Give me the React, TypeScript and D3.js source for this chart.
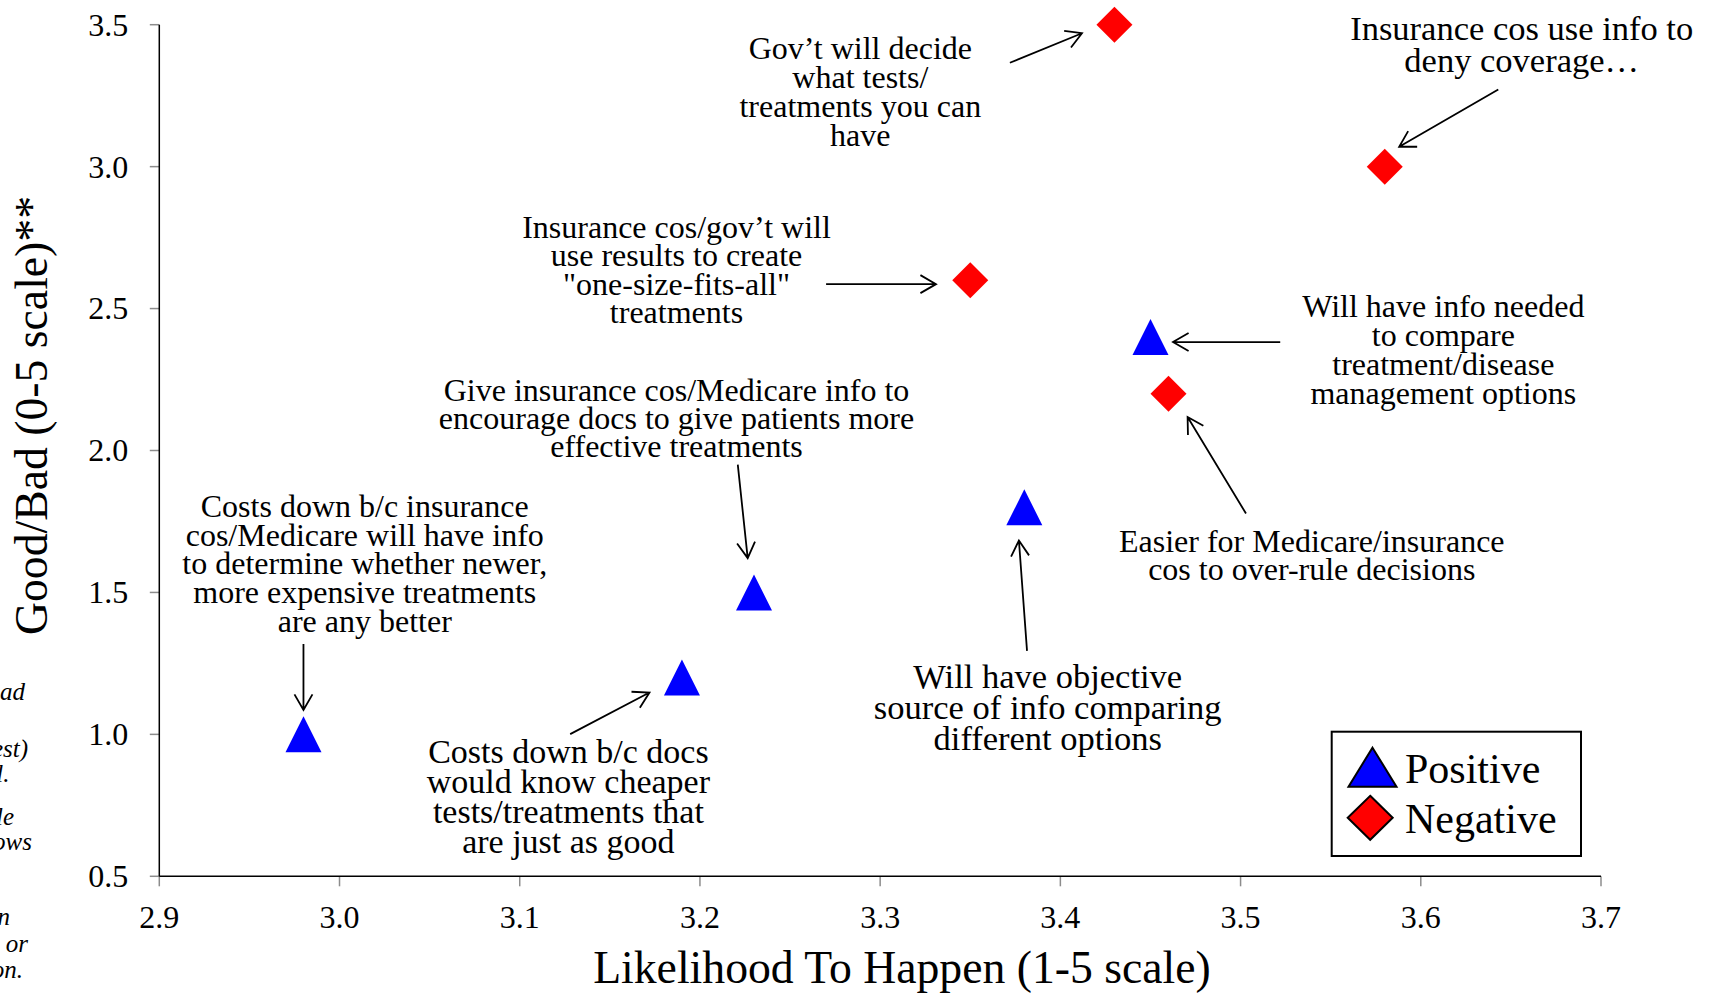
import React from "react";
import * as d3 from "d3";

// values
const positiveX = [2.98, 3.19, 3.23, 3.38, 3.45];
const positiveY = [1.0, 1.2, 1.5, 1.8, 2.4];
const negativeX = [3.43, 3.58, 3.35, 3.46];
const negativeY = [3.5, 3.0, 2.6, 2.2];

const xTicks = [2.9, 3.0, 3.1, 3.2, 3.3, 3.4, 3.5, 3.6, 3.7];
const yTicks = [0.5, 1.0, 1.5, 2.0, 2.5, 3.0, 3.5];

const xTitle = "Likelihood To Happen (1-5 scale)";
const yTitle = "Good/Bad (0-5 scale)**";
const legendLabels = ["Positive", "Negative"];

const noteLines = [
  ["Gov\u2019t will decide", "what tests/", "treatments you can", "have"],
  ["Insurance cos use info to", "deny coverage\u2026"],
  ["Insurance cos/gov\u2019t will", "use results to create", "\"one-size-fits-all\"", "treatments"],
  ["Give insurance cos/Medicare info to", "encourage docs to give patients more", "effective treatments"],
  ["Costs down b/c insurance", "cos/Medicare will have info", "to determine whether newer,", "more expensive treatments", "are any better"],
  ["Costs down b/c docs", "would know cheaper", "tests/treatments that", "are just as good"],
  ["Will have objective", "source of info comparing", "different options"],
  ["Easier for Medicare/insurance", "cos to over-rule decisions"],
  ["Will have info needed", "to compare", "treatment/disease", "management options"],
];

// label anchor (centre x, first baseline) in chart units
const noteAnchorX = [3.289, 3.656, 3.187, 3.187, 3.014, 3.127, 3.393, 3.5395, 3.6125];
const noteAnchorY = [3.378, 3.446, 2.75, 2.176, 1.765, 0.898, 1.162, 1.643, 2.471];
const noteFont = [32, 34.5, 32, 32, 32, 34, 34.5, 32, 32];
const noteLead = [28.8, 31.5, 28.6, 28.1, 28.6, 30, 31, 28.5, 29];

// arrows, chart units: [x1, y1, x2, y2]
const arrows = [
  [3.372, 3.366, 3.412, 3.47],
  [3.643, 3.272, 3.588, 3.07],
  [3.27, 2.586, 3.331, 2.586],
  [3.221, 1.95, 3.2265, 1.621],
  [2.98, 1.318, 2.98, 1.086],
  [3.128, 1.001, 3.172, 1.1475],
  [3.3815, 1.294, 3.377, 1.683],
  [3.503, 1.778, 3.4706, 2.118],
  [3.522, 2.382, 3.4625, 2.382],
];

// cut-off italic notes at the left edge of the slide
const sideNotes = ["ad", "est)", "l.", "le", "ows", "n", "or", "on."];
const sideNoteRight = [25, 28, 9.5, 14, 32, 10, 28, 23];
const sideNoteBase = [700, 757, 782, 825, 850, 925, 952, 978];

const W = 1714;
const H = 994;
const FONT = "'Liberation Serif', 'Times New Roman', Times, serif";

function triangle(cx: number, cy: number, w: number, h: number) {
  const p = d3.path();
  p.moveTo(cx, cy - h / 2);
  p.lineTo(cx + w / 2, cy + h / 2);
  p.lineTo(cx - w / 2, cy + h / 2);
  p.closePath();
  return p.toString();
}

function diamond(cx: number, cy: number, w: number, h: number) {
  const p = d3.path();
  p.moveTo(cx, cy - h / 2);
  p.lineTo(cx + w / 2, cy);
  p.lineTo(cx, cy + h / 2);
  p.lineTo(cx - w / 2, cy);
  p.closePath();
  return p.toString();
}

function arrowPath(x1: number, y1: number, x2: number, y2: number) {
  const a = Math.atan2(y1 - y2, x1 - x2);
  const len = 18;
  const spread = Math.PI / 6;
  const p = d3.path();
  p.moveTo(x1, y1);
  p.lineTo(x2, y2);
  p.moveTo(x2 + len * Math.cos(a + spread), y2 + len * Math.sin(a + spread));
  p.lineTo(x2, y2);
  p.lineTo(x2 + len * Math.cos(a - spread), y2 + len * Math.sin(a - spread));
  return p.toString();
}

export default function App() {
  const left = 159.3;
  const right = 1601;
  const top = 24.7;
  const bottom = 876.3;

  const x = d3.scaleLinear().domain([2.9, 3.7]).range([left, right]);
  const y = d3.scaleLinear().domain([0.5, 3.5]).range([bottom, top]);

  return (
    <svg
      width={W}
      height={H}
      style={{ position: "absolute", left: 0, top: 0, display: "block", background: "#fff" }}
      fontFamily={FONT}
    >
      <rect width={W} height={H} fill="#fff" />

      {/* side notes cut off by the slide edge */}
      {sideNotes.map((t, i) => (
        <text
          key={"sn" + i}
          x={sideNoteRight[i]}
          y={sideNoteBase[i]}
          textAnchor="end"
          fontSize={25}
          fontStyle="italic"
          fill="#000"
        >
          {t}
        </text>
      ))}

      {/* axes */}
      {yTicks.map((t) => (
        <g key={"yt" + t}>
          <line x1={left - 9.5} x2={left} y1={y(t)} y2={y(t)} stroke="#8c8c8c" strokeWidth={1.5} />
          <text x={left - 31} y={y(t)} dy="0.34em" textAnchor="end" fontSize={32}>
            {t.toFixed(1)}
          </text>
        </g>
      ))}
      {xTicks.map((t) => (
        <g key={"xt" + t}>
          <line x1={x(t)} x2={x(t)} y1={bottom} y2={bottom + 10} stroke="#8c8c8c" strokeWidth={1.5} />
          <text x={x(t)} y={928} textAnchor="middle" fontSize={32}>
            {t.toFixed(1)}
          </text>
        </g>
      ))}
      <line x1={left} x2={left} y1={top} y2={bottom} stroke="#000" strokeWidth={1.5} />
      <line x1={left} x2={right} y1={bottom} y2={bottom} stroke="#000" strokeWidth={1.5} />

      <text x={902} y={983} textAnchor="middle" fontSize={45.7}>
        {xTitle}
      </text>
      <text
        transform={`translate(47, ${(top + bottom) / 2 - 35}) rotate(-90)`}
        textAnchor="middle"
        fontSize={45.7}
      >
        {yTitle}
      </text>

      {/* arrows */}
      {arrows.map((a, i) => (
        <path
          key={"ar" + i}
          d={arrowPath(x(a[0]), y(a[1]), x(a[2]), y(a[3]))}
          fill="none"
          stroke="#000"
          strokeWidth={1.8}
        />
      ))}

      {/* annotation labels */}
      {noteLines.map((lines, i) => (
        <text
          key={"nt" + i}
          x={x(noteAnchorX[i])}
          y={y(noteAnchorY[i])}
          textAnchor="middle"
          fontSize={noteFont[i]}
        >
          {lines.map((l, j) => (
            <tspan key={j} x={x(noteAnchorX[i])} y={y(noteAnchorY[i]) + j * noteLead[i]}>
              {l}
            </tspan>
          ))}
        </text>
      ))}

      {/* markers */}
      {positiveX.map((v, i) => (
        <path key={"p" + i} d={triangle(x(v), y(positiveY[i]), 36, 36)} fill="#0000ff" />
      ))}
      {negativeX.map((v, i) => (
        <path key={"n" + i} d={diamond(x(v), y(negativeY[i]), 36, 36)} fill="#ff0000" />
      ))}

      {/* legend */}
      <g>
        <rect x={1331.7} y={731.7} width={249.3} height={124.3} fill="#fff" stroke="#000" strokeWidth={2} />
        <path d={triangle(1372.5, 767.2, 48, 39)} fill="#0000ff" stroke="#000" strokeWidth={2} />
        <text x={1405} y={782.7} fontSize={42}>
          {legendLabels[0]}
        </text>
        <path d={diamond(1370.2, 817.8, 45, 44)} fill="#ff0000" stroke="#000" strokeWidth={2} />
        <text x={1405} y={833.3} fontSize={42}>
          {legendLabels[1]}
        </text>
      </g>
    </svg>
  );
}
